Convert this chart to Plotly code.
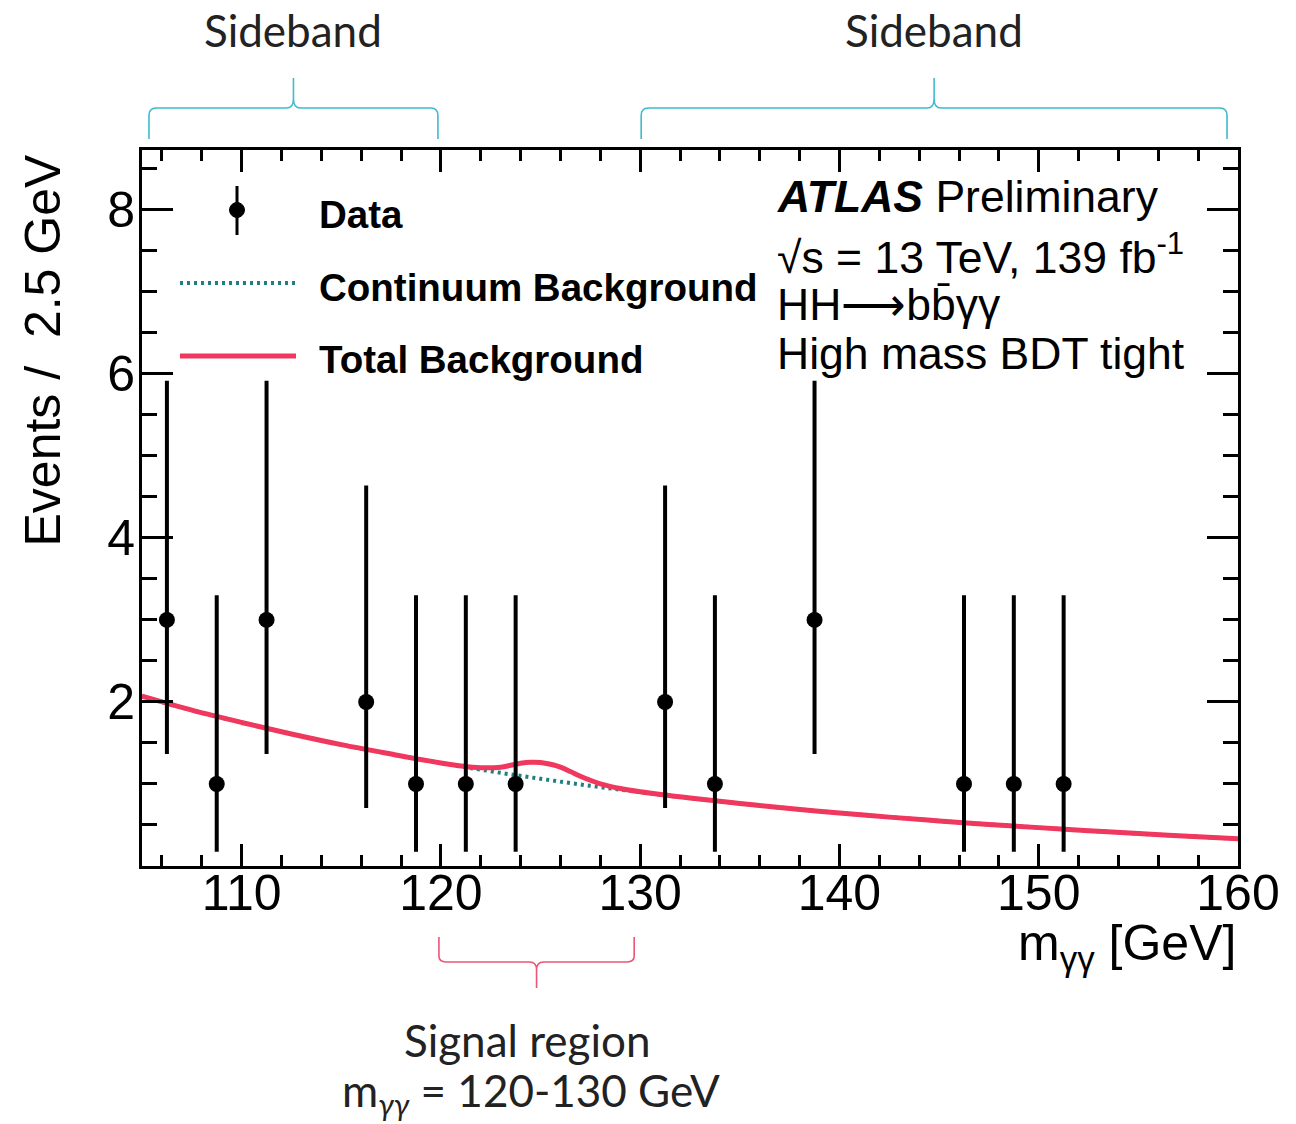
import plotly.graph_objects as go

# ---------------- data ----------------
data_x = [106.25, 108.75, 111.25, 116.25, 118.75, 121.25, 123.75, 131.25, 133.75, 138.75, 146.25, 148.75, 151.25]
data_y = [3, 1, 3, 2, 1, 1, 1, 2, 1, 3, 1, 1, 1]
err_up = [2.918, 2.300, 2.918, 2.638, 2.300, 2.300, 2.300, 2.638, 2.300, 2.918, 2.300, 2.300, 2.300]
err_dn = [1.633, 0.827, 1.633, 1.292, 0.827, 0.827, 0.827, 1.292, 0.827, 1.633, 0.827, 0.827, 0.827]

cont_x = [105, 107.5, 110, 112.5, 115, 117.5, 120, 122.5, 125, 127.5, 130, 132.5, 135, 137.5,
          140, 142.5, 145, 147.5, 150, 152.5, 155, 157.5, 160]
cont_y = [2.07, 1.90, 1.75, 1.61, 1.48, 1.365, 1.256, 1.155, 1.063, 0.978, 0.900, 0.828, 0.762, 0.701,
          0.647, 0.596, 0.550, 0.507, 0.468, 0.430, 0.395, 0.362, 0.332]

tot_x = [105, 107.5, 110, 112.5, 115, 117.5, 120, 121, 122, 123, 123.5, 124, 124.5, 125, 125.5, 126,
         126.5, 127, 127.5, 128, 129, 130, 132.5, 135, 137.5, 140, 142.5, 145, 147.5, 150, 152.5,
         155, 157.5, 160]
tot_y = [2.07, 1.90, 1.75, 1.61, 1.48, 1.365, 1.256, 1.22, 1.198, 1.205, 1.228, 1.252, 1.265, 1.262,
         1.24, 1.205, 1.152, 1.095, 1.045, 1.002, 0.945, 0.905, 0.828, 0.762, 0.701, 0.647, 0.596,
         0.550, 0.507, 0.468, 0.430, 0.395, 0.362, 0.332]

x_ticks = [110, 120, 130, 140, 150, 160]
y_ticks = [2, 4, 6, 8]

sideband_ranges = [(105.35, 119.85), (130.05, 159.45)]
signal_range = (119.9, 129.7)

legend_labels = ["Data", "Continuum Background", "Total Background"]

# ---------------- style ----------------
RED = "#f0385f"
TEAL = "#1f7f82"
CYAN = "#3cbccd"
PINK = "#ee5476"
FONT = "Liberation Sans"
SOFT = "Lato"

W, H = 1296, 1124
ML, MR, MT, MB = 142, 58, 150, 258
PW, PH = W - ML - MR, H - MT - MB


def px_x(px):
    return (px - ML) / PW


def px_y(py):
    return (H - MB - py) / PH


fig = go.Figure()

fig.add_trace(go.Scatter(x=cont_x, y=cont_y, mode="lines", line=dict(color=TEAL, width=4, dash="3px,4px", shape="spline"),
                         showlegend=False, hoverinfo="skip"))
fig.add_trace(go.Scatter(x=tot_x, y=tot_y, mode="lines", line=dict(color=RED, width=5, shape="spline"),
                         showlegend=False, hoverinfo="skip"))
fig.add_trace(go.Scatter(x=data_x, y=data_y, mode="markers",
                         marker=dict(color="black", size=16),
                         error_y=dict(type="data", symmetric=False, array=err_up, arrayminus=err_dn,
                                      color="black", thickness=4, width=0),
                         showlegend=False))

shapes = []
annotations = []


def brace(x0, x1, y_tip, y_bar, y_spike, color):
    xc = (x0 + x1) / 2
    dx = 0.35
    ry = (y_bar - y_tip) * 0.25
    rs = (y_spike - y_bar) * 0.3
    path = (f"M {x0},{y_tip} L {x0},{y_bar - ry} Q {x0},{y_bar} {x0 + dx},{y_bar} "
            f"L {xc - dx},{y_bar} Q {xc},{y_bar} {xc},{y_bar + rs} L {xc},{y_spike} "
            f"M {xc},{y_bar + rs} Q {xc},{y_bar} {xc + dx},{y_bar} "
            f"L {x1 - dx},{y_bar} Q {x1},{y_bar} {x1},{y_bar - ry} L {x1},{y_tip}")
    return dict(type="path", path=path, xref="x", yref="paper", line=dict(color=color, width=1.6))


for (a, b) in sideband_ranges:
    shapes.append(brace(a, b, px_y(139), px_y(108), px_y(78), CYAN))
    annotations.append(dict(x=(a + b) / 2, y=px_y(30), xref="x", yref="paper", text="Sideband",
                            showarrow=False, font=dict(family=SOFT, size=44, color="#222"),
                            xanchor="center", yanchor="middle"))

shapes.append(brace(signal_range[0], signal_range[1], px_y(937), px_y(962), px_y(988), PINK))
annotations.append(dict(x=sum(signal_range) / 2 - 0.5, y=px_y(1040), xref="x", yref="paper", text="Signal region",
                        showarrow=False, font=dict(family=SOFT, size=44, color="#222"),
                        xanchor="center", yanchor="middle"))
annotations.append(dict(x=sum(signal_range) / 2 - 0.3, y=px_y(1093), xref="x", yref="paper",
                        text="m<sub><i>γγ</i></sub> = 120-130 GeV",
                        showarrow=False, font=dict(family=SOFT, size=44, color="#222"),
                        xanchor="center", yanchor="middle"))

# legend (manual)
shapes.append(dict(type="line", xref="paper", yref="paper", x0=px_x(237), x1=px_x(237), y0=px_y(186), y1=px_y(235),
                   line=dict(color="black", width=3)))
shapes.append(dict(type="circle", xref="paper", yref="paper", x0=px_x(229.5), x1=px_x(244.5), y0=px_y(202.5), y1=px_y(217.5),
                   fillcolor="black", line=dict(color="black", width=1)))
shapes.append(dict(type="line", xref="paper", yref="paper", x0=px_x(180), x1=px_x(296), y0=px_y(283), y1=px_y(283),
                   line=dict(color=TEAL, width=4, dash="3px,4px")))
shapes.append(dict(type="line", xref="paper", yref="paper", x0=px_x(180), x1=px_x(296), y0=px_y(356), y1=px_y(356),
                   line=dict(color=RED, width=5)))
for lab, py in zip(legend_labels, [214, 287, 359]):
    annotations.append(dict(x=px_x(317), y=px_y(py), xref="paper", yref="paper", text=f"<b>{lab}</b>",
                            showarrow=False, font=dict(family=FONT, size=38.5, color="black"),
                            xanchor="left", yanchor="middle"))

# ATLAS text
atlas_lines = ["<b><i>ATLAS</i></b> Preliminary", "√s = 13 TeV, 139 fb<sup>-1</sup>",
               "HH⟶bb̄γγ", "High mass BDT tight"]
for txt, py in zip(atlas_lines, [196, 254, 304, 353]):
    annotations.append(dict(x=px_x(775), y=px_y(py), xref="paper", yref="paper", text=txt,
                            showarrow=False, font=dict(family=FONT, size=44.5, color="black"),
                            xanchor="left", yanchor="middle"))

# axis titles
annotations.append(dict(x=1.0, y=px_y(946), xref="paper", yref="paper", text="m<sub>γγ</sub> [GeV]",
                        showarrow=False, font=dict(family=FONT, size=50, color="black"),
                        xanchor="right", yanchor="middle"))
annotations.append(dict(x=px_x(42), y=px_y(152), xref="paper", yref="paper", text="Events /  2.5 GeV",
                        showarrow=False, textangle=-90, font=dict(family=FONT, size=50, color="black"),
                        xanchor="center", yanchor="top"))

axis_common = dict(showline=True, linecolor="black", linewidth=3, mirror="allticks", ticks="inside",
                   tickcolor="black", tickwidth=2.5, showgrid=False, zeroline=False,
                   tickfont=dict(family=FONT, size=50, color="black"))

fig.update_xaxes(range=[105, 160], tickvals=x_ticks, ticklen=22, ticklabelstandoff=-19,
                 minor=dict(ticks="inside", dtick=2, tick0=100, ticklen=11, tickcolor="black", tickwidth=2.5),
                 **axis_common)
fig.update_yaxes(range=[0, 8.73], tickvals=y_ticks, ticklen=31, ticklabelstandoff=-6,
                 minor=dict(ticks="inside", dtick=0.5, tick0=0, ticklen=15, tickcolor="black", tickwidth=2.5),
                 **axis_common)

fig.update_layout(width=W, height=H, margin=dict(l=ML, r=MR, t=MT, b=MB),
                  paper_bgcolor="white", plot_bgcolor="white", showlegend=False,
                  shapes=shapes, annotations=annotations)

fig.write_html("out.html")
